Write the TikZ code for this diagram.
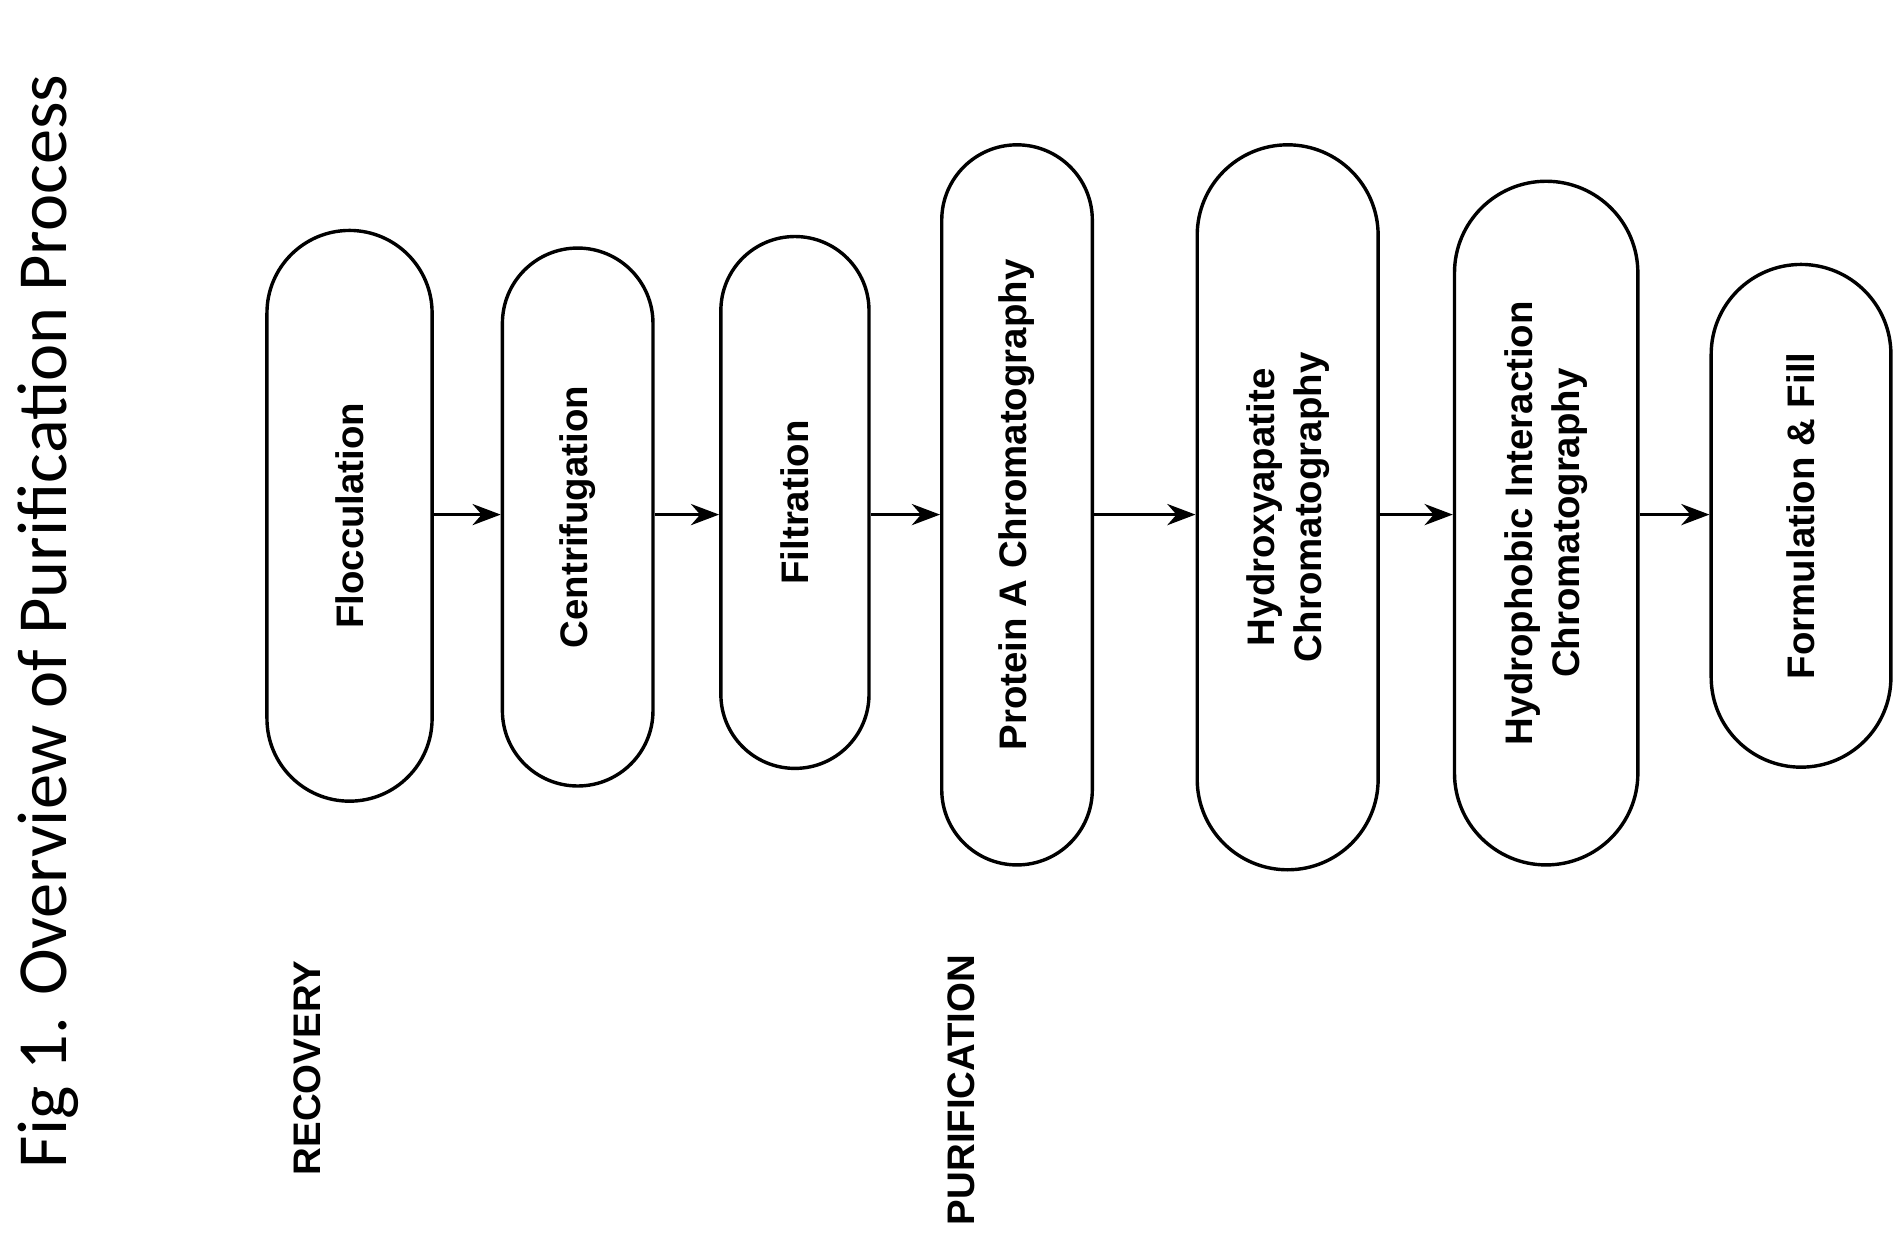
\documentclass[tikz,border=0pt]{standalone}
\usepackage{fontspec}
\setmainfont{Liberation Sans}
\newfontfamily\titlefont{Carlito}
\usetikzlibrary{arrows.meta,shapes.misc}

\begin{document}
\begin{tikzpicture}[>=Stealth, x=0.01cm, y=0.01cm,
  stage/.style={draw, thick, rounded rectangle, rotate=90, align=center,
    font=\bfseries\fontsize{9}{11}\selectfont, inner sep=0pt},
  flow/.style={->, thick}]
\useasboundingbox (0,0) rectangle (1568,-1030);

\node[rotate=90, font=\titlefont\fontsize{16.5}{20}\selectfont] (title) at (40,-512) {Fig 1. Overview of Purification Process};
\node[rotate=90, font=\bfseries\fontsize{9}{11}\selectfont] (rec) at (253,-880) {RECOVERY};
\node[rotate=90, font=\bfseries\fontsize{9}{11}\selectfont] (pur) at (792,-898) {PURIFICATION};

\node[stage, minimum width=4.7cm, minimum height=1.36cm] (floc) at (288,-425) {Flocculation};
\node[stage, minimum width=4.43cm, minimum height=1.24cm] (cent) at (476,-426) {Centrifugation};
\node[stage, minimum width=4.38cm, minimum height=1.22cm] (filt) at (655,-414) {Filtration};
\node[stage, minimum width=5.93cm, minimum height=1.24cm] (prota) at (838,-416) {Protein A Chromatography};
\node[stage, minimum width=5.97cm, minimum height=1.49cm] (hydro) at (1061,-418) {Hydroxyapatite\\Chromatography};
\node[stage, minimum width=5.63cm, minimum height=1.51cm] (hic) at (1274,-431) {Hydrophobic Interaction\\Chromatography};
\node[stage, minimum width=4.14cm, minimum height=1.48cm] (form) at (1484,-425) {Formulation \& Fill};

\draw[flow] (floc.south |- 0,-424) -- (cent.north |- 0,-424);
\draw[flow] (cent.south |- 0,-424) -- (filt.north |- 0,-424);
\draw[flow] (filt.south |- 0,-424) -- (prota.north |- 0,-424);
\draw[flow] (prota.south |- 0,-424) -- (hydro.north |- 0,-424);
\draw[flow] (hydro.south |- 0,-424) -- (hic.north |- 0,-424);
\draw[flow] (hic.south |- 0,-424) -- (form.north |- 0,-424);
\end{tikzpicture}
\end{document}
